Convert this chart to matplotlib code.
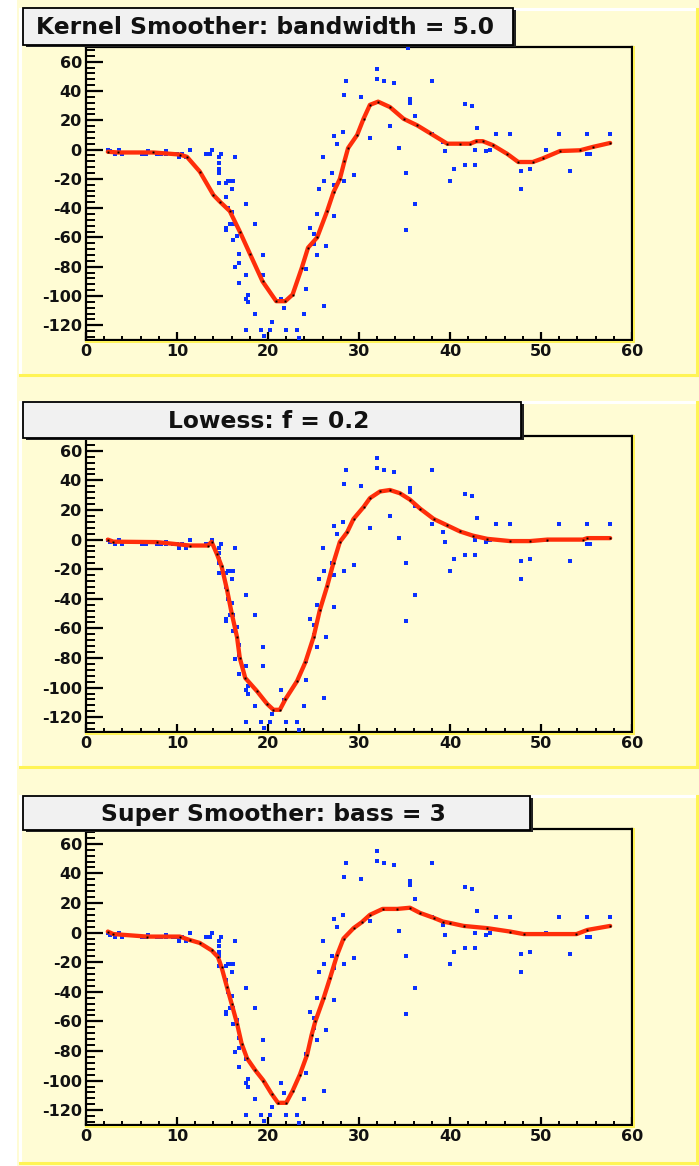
import matplotlib
matplotlib.use("Agg")
import matplotlib.pyplot as plt
from matplotlib.patches import Rectangle
from matplotlib.lines import Line2D
from matplotlib.ticker import MultipleLocator

plt.rcParams["axes.unicode_minus"] = False

# Motorcycle crash test data: time after impact [ms] and head acceleration [g]
times = [2.4, 2.6, 3.2, 3.6, 4.0, 6.2, 6.6, 6.8, 7.8, 8.2,
         8.8, 8.8, 9.6, 10.0, 10.2, 10.6, 11.0, 11.4, 13.2, 13.6,
         13.8, 14.6, 14.6, 14.6, 14.6, 14.6, 14.6, 14.8, 15.4, 15.4,
         15.4, 15.4, 15.6, 15.6, 15.8, 15.8, 16.0, 16.0, 16.2, 16.2,
         16.2, 16.4, 16.4, 16.6, 16.8, 16.8, 16.8, 17.6, 17.6, 17.6,
         17.6, 17.8, 17.8, 18.6, 18.6, 19.2, 19.4, 19.4, 19.6, 20.2,
         20.4, 21.2, 21.4, 21.8, 22.0, 23.2, 23.4, 24.0, 24.2, 24.2,
         24.6, 25.0, 25.0, 25.4, 25.4, 25.6, 26.0, 26.2, 26.2, 26.4,
         27.0, 27.2, 27.2, 27.2, 27.6, 28.2, 28.4, 28.4, 28.6, 29.4,
         30.2, 31.0, 31.2, 32.0, 32.0, 32.8, 33.4, 33.8, 34.4, 34.8,
         35.2, 35.2, 35.4, 35.6, 35.6, 36.2, 36.2, 38.0, 38.0, 39.2,
         39.4, 40.0, 40.4, 41.6, 41.6, 42.4, 42.8, 42.8, 43.0, 44.0,
         44.4, 45.0, 46.6, 47.8, 47.8, 48.8, 50.6, 52.0, 53.2, 55.0,
         55.0, 55.4, 57.6]
accel = [0.0, -1.3, -2.7, 0.0, -2.7, -2.7, -2.7, -1.3, -2.7, -2.7,
         -1.3, -2.7, -2.7, -2.7, -5.4, -2.7, -5.4, 0.0, -2.7, -2.7,
         0.0, -13.3, -5.4, -5.4, -9.3, -16.0, -22.8, -2.7, -22.8, -32.1,
         -53.5, -54.9, -40.2, -21.5, -21.5, -50.8, -42.9, -26.8, -21.5, -50.8,
         -61.7, -5.4, -80.4, -59.0, -71.0, -91.1, -77.7, -37.5, -85.6, -123.1,
         -101.9, -99.1, -104.4, -112.5, -50.8, -123.1, -85.6, -72.3, -127.2, -123.1,
         -117.9, -134.0, -101.9, -108.4, -123.1, -123.1, -128.5, -112.5, -95.1, -81.8,
         -53.5, -64.4, -57.6, -72.3, -44.3, -26.8, -5.4, -107.1, -21.5, -65.6,
         -16.0, -45.6, -24.2, 9.5, 4.0, 12.0, -21.5, 37.5, 46.9, -17.4,
         36.2, 75.0, 8.1, 54.9, 48.2, 46.9, 16.0, 45.6, 1.3, 75.0,
         -16.0, -54.9, 69.6, 34.8, 32.1, -37.5, 22.8, 46.9, 10.7, 5.4,
         -1.3, -21.5, -13.3, 30.8, -10.7, 29.4, 0.0, -10.7, 14.7, -1.3,
         0.0, 10.7, 10.7, -26.8, -14.7, -13.3, 0.0, 10.7, -14.7, -2.7,
         10.7, -2.7, 10.7]

# Smoothed curves
kern_x = [2.4, 3.5, 7.4, 10.3, 11.1, 12.5, 14.0, 14.7, 15.8, 16.9, 18.0,
          19.4, 20.9, 21.9, 22.7, 23.7, 24.4, 25.4, 26.5, 27.2, 27.9, 28.4,
          28.8, 29.8, 30.5, 31.2, 32.1, 33.4, 34.9, 36.4, 37.8, 39.7, 41.1,
          42.2, 42.9, 43.6, 44.7, 46.3, 47.5, 49.1, 50.2, 52.1, 54.3, 55.7,
          57.6]
kern_y = [-1.5, -2.0, -2.0, -3.4, -5.0, -15.0, -31.0, -35.5, -42.0, -56.0,
          -71.0, -90.0, -103.5, -103.5, -99.0, -81.0, -67.0, -60.0, -42.0,
          -29.0, -20.0, -8.0, 1.0, 10.0, 21.0, 30.5, 32.7, 29.0, 21.0, 16.5,
          11.2, 4.0, 4.0, 4.0, 5.7, 5.7, 3.0, -3.0, -8.5, -8.5, -6.0, -1.0,
          -0.5, 1.8, 4.5]

low_x = [2.4, 3.0, 7.8, 11.4, 13.4, 13.8, 14.4, 14.9, 15.5, 16.0, 16.6,
         16.9, 17.5, 18.8, 19.9, 20.6, 21.3, 21.9, 23.2, 24.1, 25.0, 25.7,
         26.5, 27.2, 27.9, 28.7, 29.4, 30.5, 31.2, 32.3, 33.4, 34.5, 35.6,
         36.7, 38.2, 39.7, 41.1, 42.5, 44.1, 46.6, 48.8, 50.7, 54.6, 55.1,
         57.6]
low_y = [0.0, -1.4, -1.7, -4.0, -4.0, -1.5, -10.0, -18.0, -34.0, -49.5,
         -66.0, -80.0, -93.5, -102.5, -111.0, -115.0, -115.0, -108.0, -95.5,
         -83.0, -66.0, -47.5, -31.5, -15.5, -1.5, 5.0, 14.0, 22.0, 28.0,
         32.5, 33.5, 31.3, 27.0, 21.0, 14.0, 9.6, 5.5, 2.7, 0.5, -1.0, -1.0,
         0.0, 0.0, 1.0, 1.0]

sup_x = [2.4, 3.0, 6.7, 10.3, 11.4, 12.5, 13.8, 14.5, 14.9, 15.5, 16.0,
         16.6, 17.1, 17.7, 18.6, 19.5, 20.4, 21.1, 22.0, 22.7, 23.5, 24.3,
         24.8, 25.2, 26.1, 26.8, 27.6, 28.3, 29.4, 30.3, 31.2, 32.6, 34.2,
         35.6, 36.7, 38.2, 39.2, 40.0, 41.5, 44.1, 46.6, 48.1, 53.9, 55.1,
         57.6]
sup_y = [0.7, -1.0, -2.7, -2.7, -5.0, -7.0, -12.0, -16.5, -23.5, -37.0,
         -48.0, -61.5, -75.0, -85.0, -93.0, -100.0, -109.0, -115.0, -115.0,
         -107.0, -96.0, -82.5, -69.0, -60.0, -44.5, -31.0, -15.0, -4.0, 3.0,
         7.0, 12.0, 16.0, 16.0, 16.8, 13.3, 10.0, 7.5, 6.5, 4.5, 3.0, 0.7,
         -1.0, -1.0, 1.8, 4.5]

titles = ["Kernel Smoother: bandwidth = 5.0",
          "Lowess: f = 0.2",
          "Super Smoother: bass = 3"]
curves = [(kern_x, kern_y), (low_x, low_y), (sup_x, sup_y)]

W, H = 699, 1166
PAD_FILL = "#fffcd4"
EDGE_YEL = "#fff455"
BLUE = "#0a30ff"
RED = "#ff2e0a"
FONT = ["DejaVu Sans"]

fig = plt.figure(figsize=(W / 100, H / 100), dpi=100)
fig.patch.set_facecolor("white")


def fx(x):
    return x / W


def fy(y):
    return 1 - y / H


def hline(x0, x1, y, color, lw):
    fig.add_artist(Line2D([fx(x0), fx(x1)], [fy(y), fy(y)], color=color,
                          lw=lw, transform=fig.transFigure, zorder=1))


def vline(x, y0, y1, color, lw):
    fig.add_artist(Line2D([fx(x), fx(x)], [fy(y0), fy(y1)], color=color,
                          lw=lw, transform=fig.transFigure, zorder=1))


# canvas background
fig.add_artist(Rectangle((fx(17), 0), 1 - fx(17), 1, transform=fig.transFigure,
                         facecolor=PAD_FILL, edgecolor="none", zorder=0))

# pad extents (pixels): top, bottom
pads = [(9, 375), (402, 767), (796, 1163)]
frames = [(47, 340), (436, 732), (829, 1125)]
boxes = [(23, 8, 513, 45), (23, 402, 521, 438), (23, 796, 530, 830)]

for (top, bot) in pads:
    hline(20, 697, top, "white", 2.2)
    vline(20, top, bot, "white", 2.2)
    hline(20, 697, bot, EDGE_YEL, 2.2)
    vline(697, top, bot, EDGE_YEL, 2.2)

for i in range(3):
    ftop, fbot = frames[i]
    left, right = 86, 632
    ax = fig.add_axes([fx(left), fy(fbot), (right - left) / W, (fbot - ftop) / H])
    ax.set_facecolor(PAD_FILL)
    ax.set_xlim(0, 60)
    ax.set_ylim(-130, 70)

    cx, cy = curves[i]
    ax.plot(times, accel, linestyle="none", marker="s", markersize=2.9,
            color=BLUE, markeredgewidth=0, zorder=3)
    ax.plot(cx, cy, color=RED, lw=3.1, zorder=4, solid_joinstyle="round",
            solid_capstyle="round")
    ax.plot(cx, cy, linestyle="none", marker="s", markersize=1.4,
            color="black", markeredgewidth=0, zorder=5)

    ax.xaxis.set_major_locator(MultipleLocator(10))
    ax.xaxis.set_minor_locator(MultipleLocator(2))
    ax.yaxis.set_major_locator(MultipleLocator(20))
    ax.yaxis.set_minor_locator(MultipleLocator(4))
    ax.set_yticks(range(-120, 61, 20))
    ax.tick_params(axis="y", which="major", direction="in", length=12.5,
                   width=1.6, pad=3, labelsize=11.5)
    ax.tick_params(axis="y", which="minor", direction="in", length=6.5,
                   width=1.4)
    ax.tick_params(axis="x", which="major", direction="in", length=6,
                   width=1.6, pad=3, labelsize=11.5)
    ax.tick_params(axis="x", which="minor", direction="in", length=3.2,
                   width=1.4)
    for lab in ax.get_xticklabels() + ax.get_yticklabels():
        lab.set_fontfamily(FONT)
        lab.set_fontweight("bold")
        lab.set_color("#111111")
    for sp in ax.spines.values():
        sp.set_linewidth(1.6)
        sp.set_color("black")

    # frame highlight below and to the right
    hline(left, right + 2, fbot + 1.8, EDGE_YEL, 1.4)
    vline(right + 2, ftop, fbot + 1.8, EDGE_YEL, 1.4)

    # title box with shadow
    bx0, by0, bx1, by1 = boxes[i]
    fig.add_artist(Rectangle((fx(bx0 + 3), fy(by1 + 2)), (bx1 - bx0) / W,
                             (by1 - by0) / H, transform=fig.transFigure,
                             facecolor="#222222", edgecolor="none", zorder=6))
    fig.add_artist(Rectangle((fx(bx0), fy(by1)), (bx1 - bx0) / W,
                             (by1 - by0) / H, transform=fig.transFigure,
                             facecolor="#f1f1f1", edgecolor="black", lw=1.3,
                             zorder=7))
    fig.text(fx((bx0 + bx1) / 2 - 3), fy((by0 + by1) / 2 + 1), titles[i],
             ha="center", va="center", fontsize=16.8, fontweight="bold",
             family=FONT, color="#111111", zorder=8)

fig.savefig("out.png", dpi=100, facecolor=fig.get_facecolor())
